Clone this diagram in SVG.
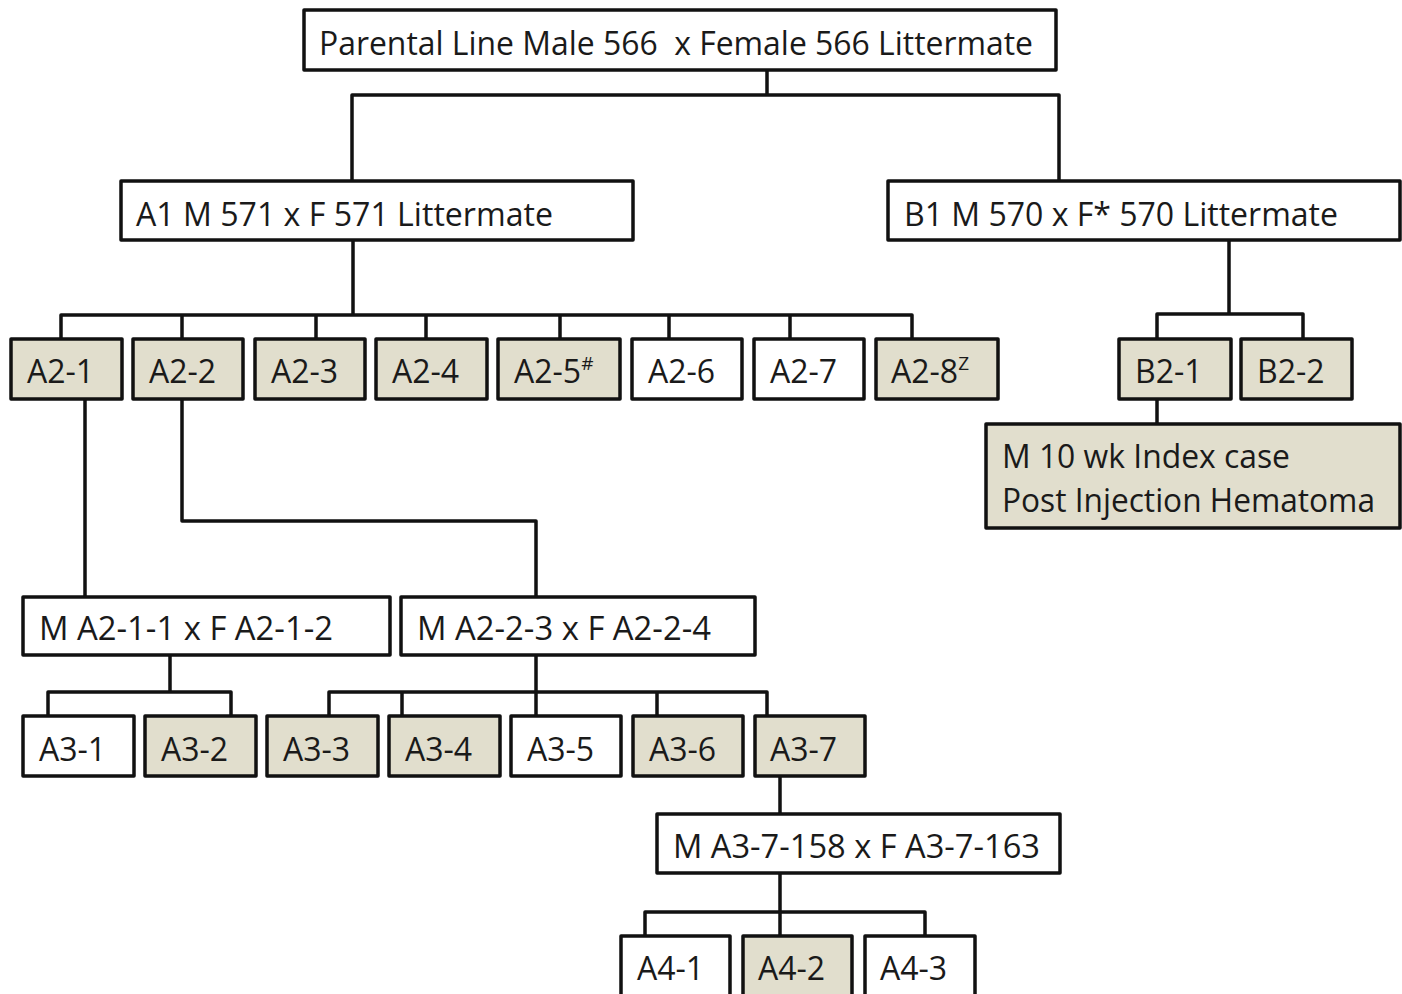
<svg xmlns="http://www.w3.org/2000/svg" width="1402" height="994" viewBox="0 0 1402 994">
<style>
.box{stroke:#111;stroke-width:3.5;stroke-linejoin:round}
.w{fill:#fff}
.g{fill:#e1decd}
.t{font-family:"Open Sans","Noto Sans",sans-serif;font-size:32px;fill:#1a1a1a}
.sup{font-size:19px}
.c{fill:none;stroke:#111;stroke-width:3.5;stroke-linejoin:round}
</style>
<rect width="1402" height="994" fill="#fff"/>
<g id="connectors" class="c">
<path d="M767 70V95M352 181V95H1059V181"/>
<path d="M353 240V315M61 339V315H912V339M182 315V339M316 315V339M426 315V339M560 315V339M669 315V339M790 315V339"/>
<path d="M1229 240V314M1157 339V314H1303V339M1157 399V424"/>
<path d="M85 399V597M182 399V521H536V597"/>
<path d="M170 655V692M48 716V692H231V716"/>
<path d="M536 655V716M329 716V692H767V716M402 692V716M657 692V716"/>
<path d="M780 776V814M780 873V936M645 936V912H925V936"/>
</g>
<g id="parental"><rect class="box w" x="304" y="10" width="752" height="60"/><text class="t" x="319" y="55" textLength="714" lengthAdjust="spacingAndGlyphs">Parental Line Male 566&#160; x Female 566 Littermate</text></g>
<g id="A1"><rect class="box w" x="121" y="181" width="512" height="59"/><text class="t" x="136" y="226" textLength="417" lengthAdjust="spacingAndGlyphs">A1 M 571 x F 571 Littermate</text></g>
<g id="B1"><rect class="box w" x="888" y="181" width="512" height="59"/><text class="t" x="904" y="226" textLength="434" lengthAdjust="spacingAndGlyphs">B1 M 570 x F* 570 Littermate</text></g>
<g id="A2-1"><rect class="box g" x="11" y="339" width="111" height="60"/><text class="t" x="27" y="383">A2-1</text></g>
<g id="A2-2"><rect class="box g" x="133" y="339" width="110" height="60"/><text class="t" x="149" y="383">A2-2</text></g>
<g id="A2-3"><rect class="box g" x="255" y="339" width="110" height="60"/><text class="t" x="271" y="383">A2-3</text></g>
<g id="A2-4"><rect class="box g" x="376" y="339" width="111" height="60"/><text class="t" x="392" y="383">A2-4</text></g>
<g id="A2-5"><rect class="box g" x="498" y="339" width="122" height="60"/><text class="t" x="514" y="383">A2-5<tspan class="sup" dy="-13">#</tspan></text></g>
<g id="A2-6"><rect class="box w" x="632" y="339" width="110" height="60"/><text class="t" x="648" y="383">A2-6</text></g>
<g id="A2-7"><rect class="box w" x="754" y="339" width="110" height="60"/><text class="t" x="770" y="383">A2-7</text></g>
<g id="A2-8"><rect class="box g" x="876" y="339" width="122" height="60"/><text class="t" x="891" y="383">A2-8<tspan class="sup" dy="-13">Z</tspan></text></g>
<g id="B2-1"><rect class="box g" x="1119" y="339" width="112" height="60"/><text class="t" x="1135" y="383">B2-1</text></g>
<g id="B2-2"><rect class="box g" x="1241" y="339" width="111" height="60"/><text class="t" x="1257" y="383">B2-2</text></g>
<g id="index"><rect class="box g" x="986" y="424" width="414" height="104"/><text class="t" x="1002" y="468" textLength="288" lengthAdjust="spacingAndGlyphs">M 10 wk Index case</text><text class="t" x="1002" y="512" textLength="373" lengthAdjust="spacingAndGlyphs">Post Injection Hematoma</text></g>
<g id="MA2-1"><rect class="box w" x="23" y="597" width="367" height="58"/><text class="t" x="39" y="640" textLength="294" lengthAdjust="spacingAndGlyphs">M A2-1-1 x F A2-1-2</text></g>
<g id="MA2-2"><rect class="box w" x="401" y="597" width="354" height="58"/><text class="t" x="417" y="640" textLength="294" lengthAdjust="spacingAndGlyphs">M A2-2-3 x F A2-2-4</text></g>
<g id="A3-1"><rect class="box w" x="23" y="716" width="111" height="60"/><text class="t" x="39" y="761">A3-1</text></g>
<g id="A3-2"><rect class="box g" x="145" y="716" width="111" height="60"/><text class="t" x="161" y="761">A3-2</text></g>
<g id="A3-3"><rect class="box g" x="267" y="716" width="111" height="60"/><text class="t" x="283" y="761">A3-3</text></g>
<g id="A3-4"><rect class="box g" x="389" y="716" width="111" height="60"/><text class="t" x="405" y="761">A3-4</text></g>
<g id="A3-5"><rect class="box w" x="511" y="716" width="110" height="60"/><text class="t" x="527" y="761">A3-5</text></g>
<g id="A3-6"><rect class="box g" x="633" y="716" width="110" height="60"/><text class="t" x="649" y="761">A3-6</text></g>
<g id="A3-7"><rect class="box g" x="755" y="716" width="110" height="60"/><text class="t" x="770" y="761">A3-7</text></g>
<g id="MA3-7"><rect class="box w" x="657" y="814" width="403" height="59"/><text class="t" x="673" y="858" textLength="367" lengthAdjust="spacingAndGlyphs">M A3-7-158 x F A3-7-163</text></g>
<g id="A4-1"><rect class="box w" x="621" y="936" width="109" height="70"/><text class="t" x="637" y="980">A4-1</text></g>
<g id="A4-2"><rect class="box g" x="743" y="936" width="109" height="70"/><text class="t" x="758" y="980">A4-2</text></g>
<g id="A4-3"><rect class="box w" x="865" y="936" width="110" height="70"/><text class="t" x="880" y="980">A4-3</text></g>
</svg>
